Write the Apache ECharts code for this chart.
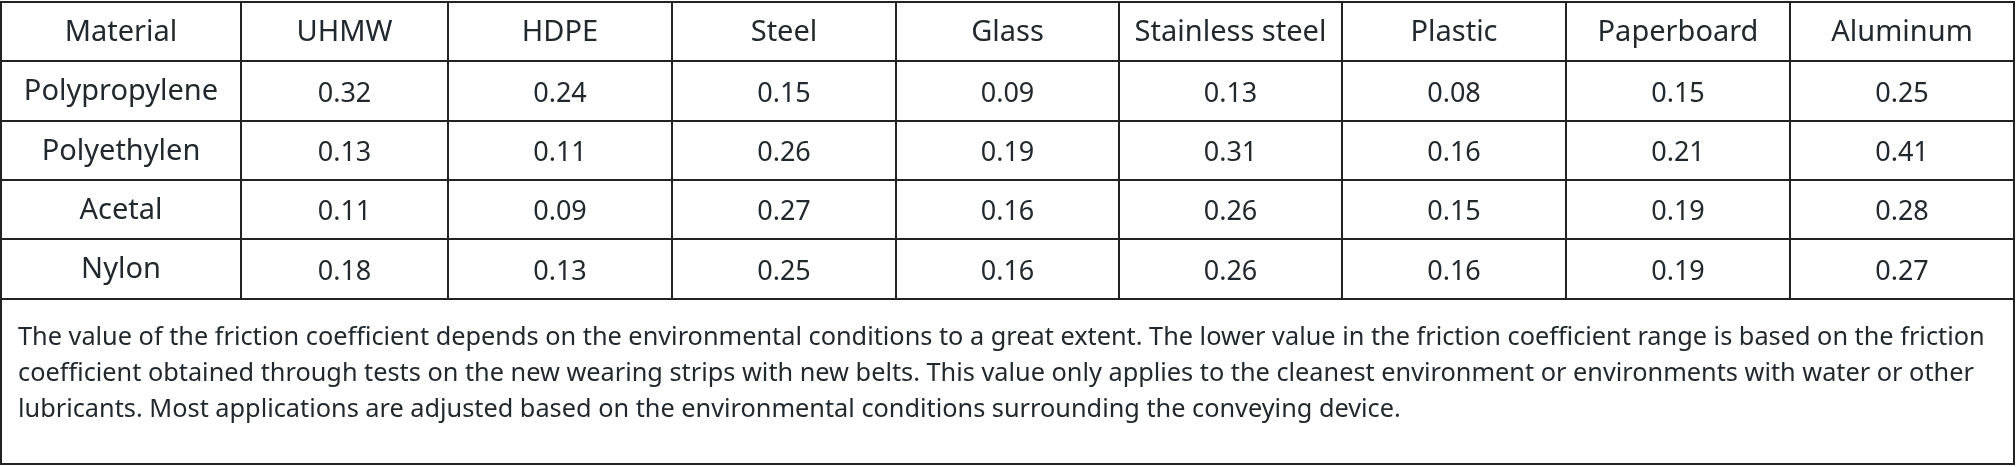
<!DOCTYPE html>
<html><head><meta charset="utf-8">
<script src="https://cdn.jsdelivr.net/npm/echarts@6/dist/echarts.min.js"></script>
<style>html,body{margin:0;padding:0;background:#fff}#c{width:2016px;height:467px}</style>
</head><body><div id="c"></div>
<script>
const columns = ['Material','UHMW','HDPE','Steel','Glass','Stainless steel','Plastic','Paperboard','Aluminum'];
const materials = ['Polypropylene','Polyethylen','Acetal','Nylon'];
const polypropylene = ['0.32','0.24','0.15','0.09','0.13','0.08','0.15','0.25'];
const polyethylen = ['0.13','0.11','0.26','0.19','0.31','0.16','0.21','0.41'];
const acetal = ['0.11','0.09','0.27','0.16','0.26','0.15','0.19','0.28'];
const nylon = ['0.18','0.13','0.25','0.16','0.26','0.16','0.19','0.27'];
const noteLines = [
 'The value of the friction coefficient depends on the environmental conditions to a great extent. The lower value in the friction coefficient range is based on the friction',
 'coefficient obtained through tests on the new wearing strips with new belts. This value only applies to the cleanest environment or environments with water or other',
 'lubricants. Most applications are adjusted based on the environmental conditions surrounding the conveying device.'
];
const rowsData = [polypropylene, polyethylen, acetal, nylon];

const colX = [1,241,448,672,896,1119,1342,1566,1790,2014];
const rowY = [2,61,121,180,239,299];
const bottom = 464;
const txt = '#22292e', line = '#222', font = '"Noto Sans", sans-serif';
const els = [];
els.push({type:'rect', shape:{x:colX[0], y:rowY[0], width:colX[9]-colX[0], height:bottom-rowY[0]}, style:{fill:'none', stroke:line, lineWidth:2}});
for (let i=1;i<rowY.length;i++) els.push({type:'line', shape:{x1:colX[0],y1:rowY[i],x2:colX[9],y2:rowY[i]}, style:{stroke:line, lineWidth:2}});
for (let j=1;j<colX.length-1;j++) els.push({type:'line', shape:{x1:colX[j],y1:rowY[0],x2:colX[j],y2:rowY[5]}, style:{stroke:line, lineWidth:2}});
function cell(t, j, i, size, dy){
  els.push({type:'text', x:(colX[j]+colX[j+1])/2, y:(rowY[i]+rowY[i+1])/2+dy,
    style:{text:t, fill:txt, font:size+'px '+font, align:'center', verticalAlign:'middle'}});
}
columns.forEach((c,j)=>cell(c,j,0,29,1));
materials.forEach((m,i)=>{
  cell(m,0,i+1,29,1);
  rowsData[i].forEach((v,j)=>cell(v,j+1,i+1,27,3));
});
noteLines.forEach((l,k)=>{
  els.push({type:'text', x:18, y:338+k*36, style:{text:l, fill:txt, font:'25.3px '+font, align:'left', verticalAlign:'middle'}});
});
const chart = echarts.init(document.getElementById('c'));
chart.setOption({animation:false, graphic:{elements:els}});
</script></body></html>
